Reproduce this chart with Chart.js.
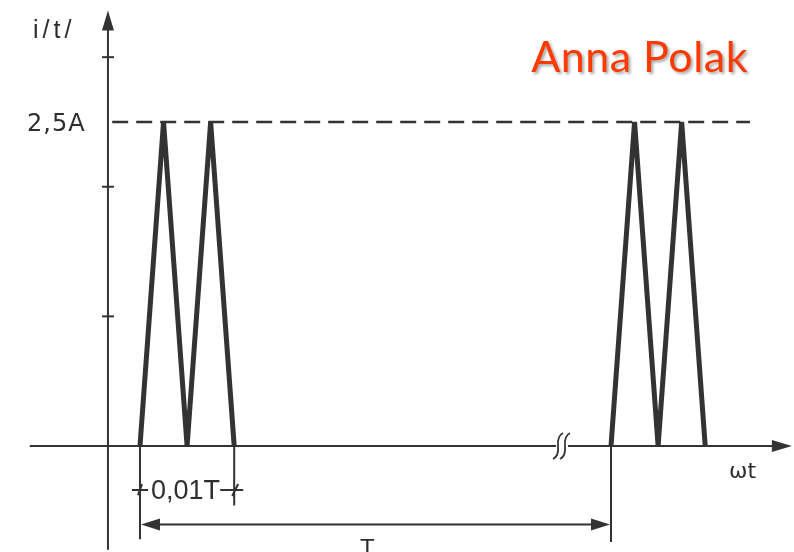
<!DOCTYPE html>
<html>
<head>
<meta charset="utf-8">
<script src="https://cdn.jsdelivr.net/npm/chart.js@4.4.1/dist/chart.umd.min.js"></script>
<style>
  html, body { margin: 0; padding: 0; background: #ffffff; }
  #wrap { width: 794px; height: 552px; position: relative; }
</style>
</head>
<body>
<div id="wrap"><canvas id="c" width="794" height="552"></canvas></div>
<script>
// ---- data (time in arbitrary units, T = 100; current in A) ----
const pulse1Times = [0, 5, 10, 15, 20];
const pulse2Times = [100, 105, 110, 115, 120];
const pulseCurrents = [0, 2.5, 0, 2.5, 0];
const peakCurrent = 2.5;
const yTickValues = [1, 2, 3];
const peakLabel = "2,5A";
const yAxisLabel = "i/t/";
const xAxisLabel = "ωt";
const widthLabel = "0,01T";
const periodLabel = "T";
const authorLabel = "Anna Polak";

// ---- layout (scale extents) ----
const X_MIN = -29.72, X_MAX = 138.85;
const Y_MIN = -0.818, Y_MAX = 3.441;
const Y_AXIS_X = -6.8;
const X_AXIS_START = -23.4;
const X_AXIS_END = 138.4;
const Y_AXIS_TOP = 3.36;
const Y_AXIS_BOTTOM = -0.80;
const BREAK_X = 89.6;
const DASH_START = -5.9, DASH_END = 129.5;

const ink = '#333333';

function pts(xs, ys) { return xs.map((x, i) => ({ x: x, y: ys[i] })); }

const decor = {
  id: 'decor',
  beforeDatasetsDraw(chart) {
    const ctx = chart.ctx;
    const sx = chart.scales.x, sy = chart.scales.y;
    const X = v => sx.getPixelForValue(v);
    const Y = v => sy.getPixelForValue(v);
    ctx.save();
    ctx.strokeStyle = ink;
    ctx.fillStyle = ink;
    ctx.lineWidth = 2;
    ctx.lineCap = 'butt';
    // x axis
    ctx.beginPath();
    ctx.moveTo(X(X_AXIS_START), Y(0));
    ctx.lineTo(X(X_AXIS_END) - 14, Y(0));
    ctx.stroke();
    // y axis
    ctx.beginPath();
    ctx.moveTo(X(Y_AXIS_X), Y(Y_AXIS_BOTTOM));
    ctx.lineTo(X(Y_AXIS_X), Y(Y_AXIS_TOP) + 14);
    ctx.stroke();
    // arrowheads
    const ax = X(X_AXIS_END), ay = Y(0);
    ctx.beginPath();
    ctx.moveTo(ax, ay); ctx.lineTo(ax - 20, ay - 6); ctx.lineTo(ax - 20, ay + 6); ctx.closePath(); ctx.fill();
    const bx = X(Y_AXIS_X), by = Y(Y_AXIS_TOP);
    ctx.beginPath();
    ctx.moveTo(bx, by); ctx.lineTo(bx - 6, by + 20); ctx.lineTo(bx + 6, by + 20); ctx.closePath(); ctx.fill();
    // y ticks
    yTickValues.forEach(v => {
      ctx.beginPath();
      ctx.moveTo(X(Y_AXIS_X) - 6, Y(v));
      ctx.lineTo(X(Y_AXIS_X) + 6, Y(v));
      ctx.stroke();
    });
    // break mark on x axis
    const kx = X(BREAK_X), ky = Y(0);
    ctx.fillStyle = '#ffffff';
    ctx.fillRect(kx - 6, ky - 3, 12, 6);
    ctx.fillStyle = ink;
    ctx.lineWidth = 1.8;
    [-4, 3].forEach(o => {
      ctx.beginPath();
      ctx.moveTo(kx + o + 5, ky - 13);
      ctx.quadraticCurveTo(kx + o - 1, ky - 10, kx + o, ky);
      ctx.quadraticCurveTo(kx + o + 1, ky + 10, kx + o - 5, ky + 13);
      ctx.stroke();
    });
    // dimension lines
    ctx.lineWidth = 2;
    const p0 = X(pulse1Times[0]), p1 = X(pulse1Times[pulse1Times.length - 1]), p2 = X(pulse2Times[0]);
    ctx.beginPath();
    ctx.moveTo(p0, Y(0)); ctx.lineTo(p0, Y(-0.72));
    ctx.moveTo(p1, Y(0)); ctx.lineTo(p1, Y(-0.46));
    ctx.moveTo(p2, Y(0)); ctx.lineTo(p2, Y(-0.74));
    ctx.stroke();
    // 0,01T ticks
    const wy = Y(-0.34);
    ctx.beginPath();
    ctx.moveTo(p0 - 8, wy); ctx.lineTo(p0 + 8, wy);
    ctx.moveTo(p1 - 14, wy); ctx.lineTo(p1 + 9, wy);
    ctx.moveTo(p1 + 4, wy - 6); ctx.lineTo(p1 - 2, wy + 6);
    ctx.moveTo(p0 + 2, wy - 6); ctx.lineTo(p0 - 2, wy + 5);
    ctx.stroke();
    // T dimension arrow
    const ty = Y(-0.605);
    ctx.beginPath();
    ctx.moveTo(p0 + 14, ty); ctx.lineTo(p2 - 14, ty);
    ctx.stroke();
    ctx.beginPath();
    ctx.moveTo(p0 + 1, ty); ctx.lineTo(p0 + 20, ty - 6); ctx.lineTo(p0 + 20, ty + 6); ctx.closePath(); ctx.fill();
    ctx.beginPath();
    ctx.moveTo(p2 - 1, ty); ctx.lineTo(p2 - 20, ty - 6); ctx.lineTo(p2 - 20, ty + 6); ctx.closePath(); ctx.fill();

    // texts
    ctx.fillStyle = '#2e2e2e';
    ctx.textBaseline = 'alphabetic';
    ctx.textAlign = 'left';
    ctx.font = '24px "DejaVu Sans"';
    ctx.letterSpacing = '1px';
    ctx.fillText(peakLabel, 27, Y(peakCurrent) + 9);
    ctx.font = '25px "Liberation Sans"';
    ctx.letterSpacing = '4px';
    ctx.fillText(yAxisLabel, 33, 38);
    ctx.letterSpacing = '0px';
    ctx.font = '27px "Liberation Sans"';
    ctx.fillText(widthLabel, 151, 499);
    ctx.font = '22px "DejaVu Sans"';
    ctx.fillText(xAxisLabel, 729, Y(0) + 32);
    ctx.font = '24px "Liberation Sans"';
    ctx.fillText(periodLabel, 360, 556);
    // author
    ctx.font = '43px Lato';
    ctx.letterSpacing = '0.5px';
    ctx.textAlign = 'right';
    ctx.shadowColor = 'rgba(0,0,0,0.35)';
    ctx.shadowBlur = 3;
    ctx.shadowOffsetX = 2;
    ctx.shadowOffsetY = 2;
    ctx.fillStyle = '#ff3a00';
    ctx.fillText(authorLabel, 748, 72);
    ctx.restore();
  }
};

new Chart(document.getElementById('c'), {
  type: 'scatter',
  data: {
    datasets: [
      {
        data: [{ x: DASH_START, y: peakCurrent }, { x: DASH_END, y: peakCurrent }],
        showLine: true, borderColor: ink, borderWidth: 2.4, borderDash: [16, 8],
        pointRadius: 0, tension: 0
      },
      {
        data: pts(pulse1Times, pulseCurrents),
        showLine: true, borderColor: ink, borderWidth: 5, borderJoinStyle: 'bevel',
        pointRadius: 0, tension: 0
      },
      {
        data: pts(pulse2Times, pulseCurrents),
        showLine: true, borderColor: ink, borderWidth: 5, borderJoinStyle: 'bevel',
        pointRadius: 0, tension: 0
      }
    ]
  },
  options: {
    responsive: false,
    animation: false,
    layout: { padding: 0 },
    plugins: { legend: { display: false }, tooltip: { enabled: false }, title: { display: false } },
    scales: {
      x: { type: 'linear', min: X_MIN, max: X_MAX, display: false },
      y: { type: 'linear', min: Y_MIN, max: Y_MAX, display: false }
    }
  },
  plugins: [decor]
});
</script>
</body>
</html>
